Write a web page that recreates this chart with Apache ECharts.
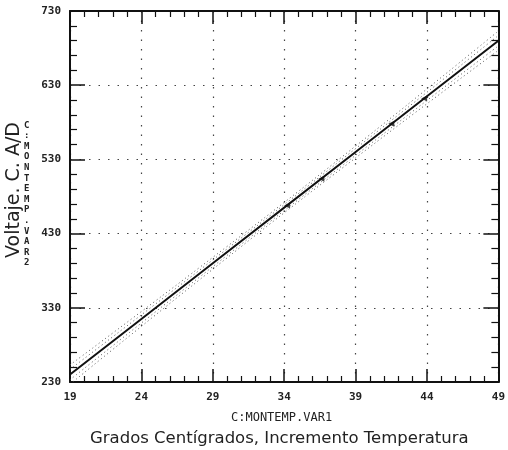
<!DOCTYPE html>
<html>
<head>
<meta charset="utf-8">
<script src="https://cdn.jsdelivr.net/npm/echarts@6/dist/echarts.min.js"></script>
<style>
  html, body { margin: 0; padding: 0; background: #fff; }
  #chart { width: 508px; height: 450px; }
</style>
</head>
<body>
<div id="chart"></div>
<script>
// temperatura (C) y voltaje del convertidor A/D
const xMin = 19, xMax = 49;
const yMin = 230, yMax = 730;
const temps = [19, 24, 29, 34, 39, 44, 49];
const fitLine = [240, 315, 390, 465, 540, 615, 690];
const innerUp = [247, 320.5, 394.5, 469, 544.5, 620.5, 697];
const innerLo = [233, 309.5, 385.5, 461, 535.5, 609.5, 683];
const outerUp = [253, 325, 398, 472, 548, 625, 703];
const outerLo = [227, 305, 382, 458, 532, 605, 677];
// puntos marcados sobre la recta
const markX = [34.2, 36.6, 41.5, 43.8];
const markY = [468, 504, 578, 612];

// los ejes empiezan en 19 y 230, se desplazan para que los ticks salgan de min
const pair = (xs, ys) => xs.map((x, i) => [x - xMin, ys[i] - yMin]);

const chart = echarts.init(document.getElementById('chart'));

const tickFont = { fontFamily: 'DejaVu Sans Mono', fontSize: 11, color: '#222', fontWeight: 'bold' };
const gridDots = { color: '#444', width: 1.2, type: [1.5, 8] };

const xBase = {
  type: 'value', min: 0, max: xMax - xMin, interval: 5,
  axisLine: { show: true, onZero: false, lineStyle: { color: '#111', width: 2 } },
  axisTick: { show: true, inside: true, length: 13, lineStyle: { color: '#111', width: 1.5 } },
  minorTick: { show: true, splitNumber: 5, length: 6, lineStyle: { color: '#111', width: 1.2 } },
  splitLine: { show: false },
  minorSplitLine: { show: false }
};
const yBase = {
  type: 'value', min: 0, max: yMax - yMin, interval: 100,
  axisLine: { show: true, onZero: false, lineStyle: { color: '#111', width: 2 } },
  axisTick: { show: true, inside: true, length: 15, lineStyle: { color: '#111', width: 1.5 } },
  minorTick: { show: true, splitNumber: 5, length: 7, lineStyle: { color: '#111', width: 1.2 } },
  splitLine: { show: false },
  minorSplitLine: { show: false }
};

const bandStyle = { color: '#555', width: 1, type: [1, 3] };
const bandSeries = (ys) => ({
  type: 'line', data: pair(temps, ys), showSymbol: false, smooth: true,
  lineStyle: bandStyle, silent: true, clip: true
});

const option = {
  backgroundColor: '#fff',
  animation: false,
  grid: { left: 70, right: 8, top: 11, bottom: 68 },
  xAxis: [
    Object.assign({}, xBase, {
      position: 'bottom',
      axisLabel: Object.assign({ margin: 10, formatter: v => String(v + xMin) }, tickFont),
      splitLine: { show: true, lineStyle: gridDots }
    }),
    Object.assign({}, xBase, { position: 'top', axisLabel: { show: false } })
  ],
  yAxis: [
    Object.assign({}, yBase, {
      position: 'left',
      axisLabel: Object.assign({ margin: 9, formatter: v => String(v + yMin) }, tickFont),
      splitLine: { show: true, lineStyle: gridDots }
    }),
    Object.assign({}, yBase, { position: 'right', axisLabel: { show: false } })
  ],
  series: [
    bandSeries(outerUp),
    bandSeries(innerUp),
    bandSeries(innerLo),
    bandSeries(outerLo),
    {
      type: 'line', data: pair(temps, fitLine), showSymbol: false,
      lineStyle: { color: '#111', width: 2 }, clip: true
    },
    {
      type: 'scatter', data: pair(markX, markY), symbol: 'triangle',
      symbolSize: 6, symbolRotate: 90, itemStyle: { color: '#111' }
    }
  ],
  graphic: [
    {
      type: 'text', left: 231, top: 412,
      style: { text: 'C:MONTEMP.VAR1', font: '12px "DejaVu Sans Mono"', fill: '#222' }
    },
    {
      type: 'text', left: 90, top: 430,
      style: { text: 'Grados Centígrados, Incremento Temperatura', font: '16.5px "DejaVu Sans"', fill: '#222' }
    },
    {
      type: 'text', x: 14, y: 190, rotation: Math.PI / 2,
      style: { text: 'Voltaje. C. A/D', font: '19px "DejaVu Sans"', fill: '#222', align: 'center', verticalAlign: 'middle' }
    },
    {
      type: 'text', left: 24, top: 120,
      style: {
        text: 'C:MONTEMP.VAR2'.split('').join('\n'),
        font: 'bold 9px "DejaVu Sans Mono"', lineHeight: 10.6, fill: '#222', align: 'center'
      }
    }
  ]
};

chart.setOption(option);
</script>
</body>
</html>
